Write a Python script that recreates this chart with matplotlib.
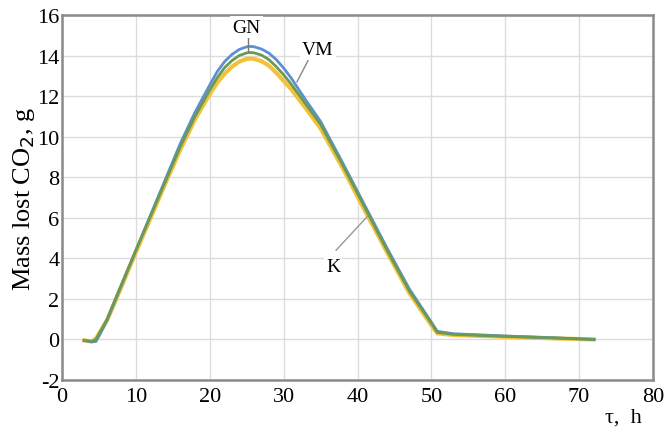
import numpy as np
import matplotlib
matplotlib.use("Agg")
import matplotlib.pyplot as plt

# =========================
# DATA
# =========================
tau = [3.0, 4.0, 4.6, 5.2, 6.1, 7.0, 10.0, 12.0, 14.0, 16.0, 18.0, 20.0, 21.0,
       22.0, 23.0, 24.0, 25.0, 25.5, 26.0, 27.0, 28.0, 29.0, 30.0, 31.0, 33.0,
       35.0, 38.0, 41.0, 44.0, 47.0, 50.0, 50.8, 53.0, 60.0, 66.0, 72.0]

mass_gn = [-0.05, -0.1, 0.0, 0.4, 1.0, 1.8, 4.4, 6.1, 7.8, 9.5, 11.0, 12.3, 12.9,
           13.4, 13.75, 14.0, 14.13, 14.15, 14.13, 14.02, 13.8, 13.45, 13.05, 12.6, 11.6,
           10.6, 8.6, 6.5, 4.4, 2.4, 0.8, 0.35, 0.25, 0.15, 0.08, 0.0]

mass_vm = [-0.05, -0.12, -0.1, 0.3, 0.95, 1.75, 4.4, 6.15, 7.9, 9.65, 11.2, 12.55, 13.2,
           13.7, 14.05, 14.3, 14.43, 14.45, 14.43, 14.32, 14.12, 13.8, 13.38, 12.9, 11.8,
           10.75, 8.7, 6.6, 4.5, 2.5, 0.85, 0.4, 0.28, 0.17, 0.09, 0.0]

mass_k = [-0.05, -0.1, 0.05, 0.4, 0.95, 1.7, 4.3, 6.0, 7.7, 9.35, 10.85, 12.1, 12.65,
          13.1, 13.45, 13.7, 13.83, 13.85, 13.83, 13.72, 13.5, 13.15, 12.75, 12.35, 11.4,
          10.4, 8.45, 6.35, 4.3, 2.3, 0.7, 0.3, 0.22, 0.13, 0.06, 0.0]

xticks = [0, 10, 20, 30, 40, 50, 60, 70, 80]
yticks = [-2, 0, 2, 4, 6, 8, 10, 12, 14, 16]

# =========================
# FIGURE SETUP
# =========================
plt.rcParams["font.family"] = ["Liberation Serif", "DejaVu Serif"]
plt.rcParams["axes.unicode_minus"] = False

fig = plt.figure(figsize=(6.67, 4.31), dpi=100)
ax = fig.add_axes([0.093, 0.116, 0.886, 0.847])

ax.set_xlim(0, 80)
ax.set_ylim(-2, 16)
ax.set_xticks(xticks)
ax.set_yticks(yticks)
ax.tick_params(length=0, labelsize=16)
ax.tick_params(axis="x", pad=5)
ax.tick_params(axis="y", pad=2)
ax.grid(True, color="#dcdcdc", linewidth=1.0)
ax.set_axisbelow(True)
for s in ax.spines.values():
    s.set_color("#8a8a8a")
    s.set_linewidth(1.8)

# curves
ax.plot(tau, mass_k, color="#f2c23a", linewidth=3.0, zorder=3)
ax.plot(tau, mass_vm, color="#5d8fd2", linewidth=2.0, zorder=4)
ax.plot(tau, mass_gn, color="#6b9a55", linewidth=2.0, zorder=5)

# labels with pointer lines
box = dict(facecolor="white", edgecolor="none", pad=1.5)
ax.plot([25.2, 25.2], [14.9, 14.2], color="#777777", linewidth=1, zorder=6)
ax.text(25.0, 15.4, "GN", fontsize=14, ha="center", va="center", bbox=box, zorder=7)
ax.plot([33.3, 31.8], [13.75, 12.7], color="#888888", linewidth=1, zorder=6)
ax.text(34.6, 14.3, "VM", fontsize=14, ha="center", va="center", bbox=box, zorder=7)
ax.plot([37.1, 41.3], [4.4, 6.05], color="#999999", linewidth=1, zorder=6)
ax.text(36.7, 3.6, "K", fontsize=14, ha="center", va="center", bbox=box, zorder=7)

ax.set_ylabel("Mass lost CO$_2$, g", fontsize=19, labelpad=0)
fig.text(0.935, 0.03, "τ,  h", fontsize=16, ha="center", va="center")

fig.savefig("out.png", dpi=100)
